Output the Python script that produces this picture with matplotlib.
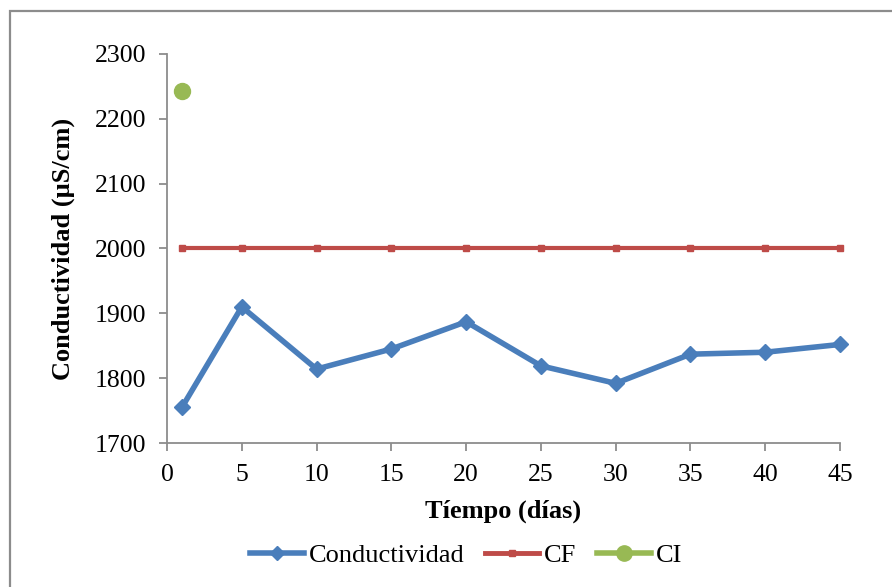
import matplotlib
matplotlib.use("Agg")
import matplotlib.pyplot as plt
from matplotlib.patches import Rectangle
from matplotlib.lines import Line2D

dias = [1, 5, 10, 15, 20, 25, 30, 35, 40, 45]
conductividad = [1755, 1910, 1814, 1845, 1887, 1819, 1792, 1837, 1840, 1852]
cf = [2000, 2000, 2000, 2000, 2000, 2000, 2000, 2000, 2000, 2000]
ci_dia = [1]
ci = [2243]

x_ticks = [0, 5, 10, 15, 20, 25, 30, 35, 40, 45]
y_ticks = [1700, 1800, 1900, 2000, 2100, 2200, 2300]

plt.rcParams['font.family'] = ['Liberation Serif', 'DejaVu Serif']

fig = plt.figure(figsize=(8.92, 5.87), dpi=100)
fig.patch.set_facecolor('white')
frame = Rectangle((10 / 892, -0.01), 1, 1.01 - 11 / 587, transform=fig.transFigure,
                  facecolor='white', edgecolor='#8c8c8c', linewidth=1.6, zorder=-10)
fig.patches.append(frame)

ax = fig.add_axes([167 / 892, 1 - 443 / 587, 673 / 892, 389 / 587])
ax.set_facecolor('none')

ax.plot(dias, conductividad, color='#4a7ebb', linewidth=4, marker='D',
        markersize=8, label='Conductividad', solid_joinstyle='round', clip_on=False)
ax.plot(dias, cf, color='#be4b48', linewidth=3, marker='s', markersize=5,
        label='CF', clip_on=False)
ax.plot(ci_dia, ci, color='#98b954', linewidth=4, marker='o', markersize=11.5,
        linestyle='none', label='CI', clip_on=False)

ax.set_xlim(0, 45)
ax.set_ylim(1700, 2300)
ax.set_xticks(x_ticks)
ax.set_yticks(y_ticks)

for s in ['top', 'right']:
    ax.spines[s].set_visible(False)
for s in ['left', 'bottom']:
    ax.spines[s].set_color('#8c8c8c')
    ax.spines[s].set_linewidth(1.3)
ax.tick_params(axis='both', which='major', direction='out', length=6, width=1.3,
               color='#8c8c8c', labelsize=18.5)
ax.tick_params(axis='y', pad=9)
ax.tick_params(axis='x', pad=9)

ax.set_xlabel('Tíempo (días)', fontsize=19, fontweight='bold', labelpad=10)
ax.set_ylabel('Conductividad (µS/cm)', fontsize=19, fontweight='bold', labelpad=14)

handles = [
    Line2D([], [], color='#4a7ebb', linewidth=4, marker='D', markersize=7),
    Line2D([], [], color='#be4b48', linewidth=3.5, marker='s', markersize=5),
    Line2D([], [], color='#98b954', linewidth=4, marker='o', markersize=11),
]
fig.legend(handles, ['Conductividad', 'CF', 'CI'], loc='center',
           bbox_to_anchor=(466 / 892, 1 - 555 / 587), ncol=3, frameon=False,
           fontsize=19, handlelength=2.05, handletextpad=0.2, columnspacing=0.76,
           borderpad=0.2)

fig.savefig('out.png', dpi=100)
